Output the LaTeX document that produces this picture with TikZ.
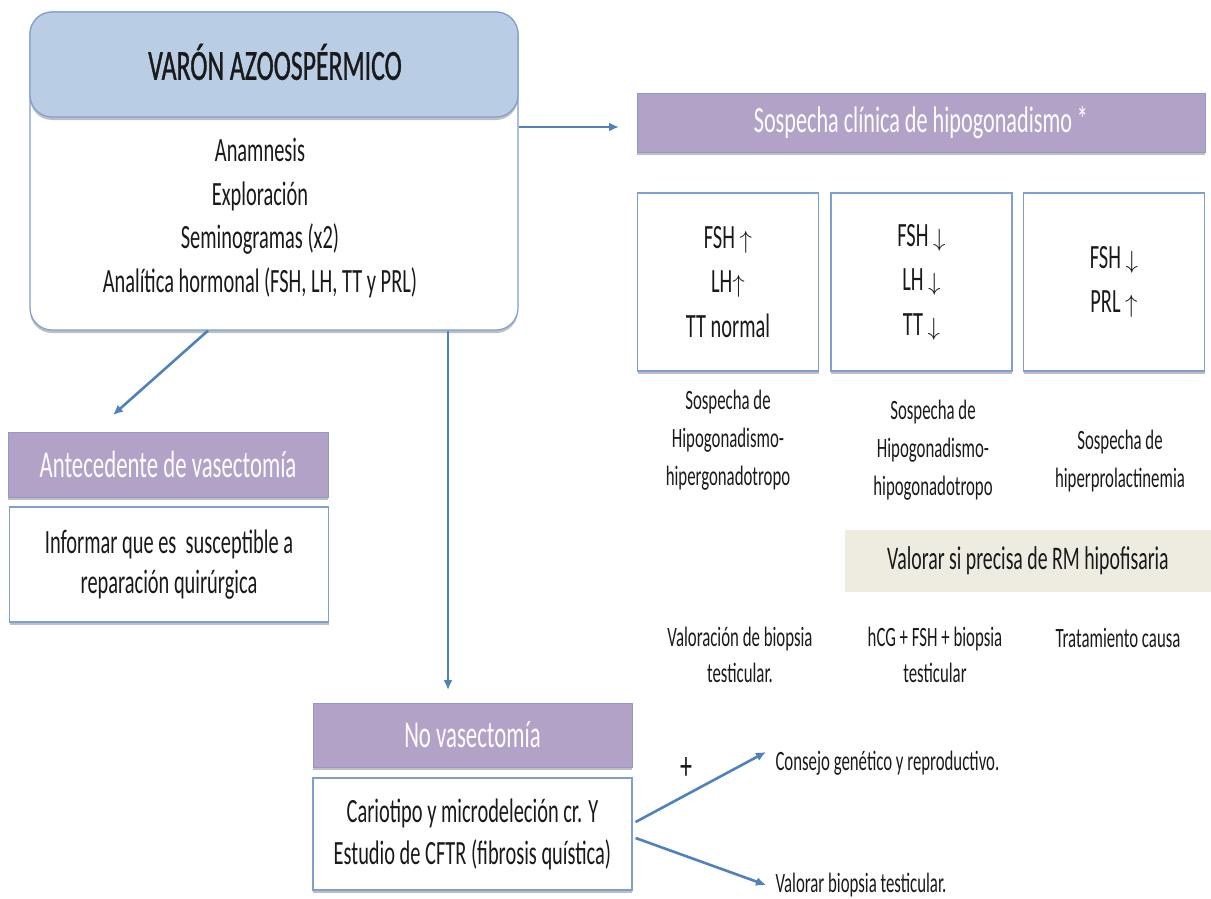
\documentclass[tikz,border=0pt]{standalone}
\usepackage{fontspec}
\setmainfont[FakeStretch=0.6]{Carlito}
\newfontfamily\titlefont[FakeStretch=0.6,FakeBold=0.8]{Carlito}
\usetikzlibrary{arrows.meta,shadows}

\definecolor{headblue}{HTML}{B9CDE5}
\definecolor{lineblue}{HTML}{7F9FCF}
\definecolor{arrblue}{HTML}{4F81BD}
\definecolor{lila}{HTML}{B3A2C7}
\definecolor{lilaline}{HTML}{8E9BC9}
\definecolor{beige}{HTML}{EEECE1}
\definecolor{txt}{HTML}{1A1A1A}

\newcommand{\fsz}[2]{\fontsize{#1}{#2}\selectfont}

\begin{document}
\begin{tikzpicture}[x=1pt,y=-1pt,
    shadowed/.style={drop shadow={shadow xshift=0pt,shadow yshift=-3pt,opacity=0.25,fill=black}},
    whitebox/.style={shadowed,draw=lineblue,line width=1.2pt,fill=white,inner sep=0pt,align=center,text=txt},
    lilabox/.style={shadowed,draw=lilaline,line width=0.8pt,fill=lila,inner sep=0pt,text=white,font=\fsz{38}{44}},
    label/.style={align=center,text=txt,font=\fsz{28}{38}},
    arr/.style={draw=arrblue,line width=2.6pt,-{Latex[length=10pt,width=9pt]}}]
    \useasboundingbox (0,0) rectangle (1211,899);

    \node[whitebox,rounded corners=22pt,minimum width=488pt,minimum height=318pt] (main) at (274,171) {};
    \node[shadowed,draw=lineblue,line width=1.2pt,fill=headblue,rounded corners=22pt,
          minimum width=488pt,minimum height=105pt] (head) at (274,64.5) {};
    \node[text=txt,font=\titlefont\fsz{43}{48}] (title) at (275,62) {VARÓN AZOOSPÉRMICO};
    \node[align=center,text=txt,font=\fsz{34}{43.5}] (tests) at (260,218)
        {Anamnesis\\Exploración\\Seminogramas (x2)\\Analítica hormonal (FSH, LH, TT y PRL)};

    \node[lilabox,font=\fsz{37}{44},minimum width=568pt,minimum height=59pt] (sosp) at (921,122.5)
        {Sospecha clínica de hipogonadismo *};

    \begin{scope}[every node/.style={whitebox,font=\fsz{34}{44.5},minimum width=181pt,minimum height=178pt}]
        \node (hiper) at (728,282) {FSH $\uparrow$\\LH$\uparrow$\\TT normal};
        \node (hipo) at (921.5,282) {FSH $\downarrow$\\LH $\downarrow$\\TT $\downarrow$};
        \node (prl) at (1114,282) {FSH $\downarrow$\\PRL $\uparrow$};
    \end{scope}

    \node[label] (shiper) at (728,440) {Sospecha de\\Hipogonadismo-\\hipergonadotropo};
    \node[label] (shipo) at (933,450) {Sospecha de\\Hipogonadismo-\\hipogonadotropo};
    \node[label] (sprl) at (1120,461) {Sospecha de\\hiperprolactinemia};

    \node[fill=beige,minimum width=366pt,minimum height=62pt,text=txt,font=\fsz{33}{38}] (rm) at (1028,561)
        {Valorar si precisa de RM hipofisaria};

    \node[label,font=\fsz{28}{36}] (vbiop) at (740,655) {Valoración de biopsia\\testicular.};
    \node[label,font=\fsz{28}{36}] (hcg) at (935,655) {hCG + FSH + biopsia\\testicular};
    \node[label] (trat) at (1118,638) {Tratamiento causa};

    \node[lilabox,minimum width=320pt,minimum height=65pt] (antec) at (168,464.5) {Antecedente de vasectomía};
    \node[whitebox,font=\fsz{34}{40},minimum width=319pt,minimum height=115pt] (inform) at (169,564.5)
        {Informar que es\ \ susceptible a\\reparación quirúrgica};

    \node[lilabox,minimum width=319pt,minimum height=64pt] (novas) at (472.5,735) {No vasectomía};
    \node[whitebox,font=\fsz{34}{42},minimum width=319pt,minimum height=112pt] (cario) at (472.5,834)
        {Cariotipo y microdeleción cr. Y\\Estudio de CFTR (fibrosis quística)};

    \node[text=txt,font=\fsz{40}{44}] (plus) at (686,768) {+};
    \node[anchor=west,text=txt,font=\fsz{28}{32}] (consejo) at (772,763) {Consejo genético y reproductivo.};
    \node[anchor=west,text=txt,font=\fsz{28}{32}] (vtest) at (772,885) {Valorar biopsia testicular.};

    \coordinate (e1) at (619,127);
    \coordinate (e2) at (113,415);
    \coordinate (e3) at (448,690);
    \coordinate (e4) at (766,752);
    \coordinate (e5) at (766,885);
    \draw[arr] (main.east |- e1) -- (e1);
    \draw[arr] ([xshift=-66pt]main.south) -- (e2);
    \draw[arr] (main.south -| e3) -- (e3);
    \draw[arr] ([xshift=3pt,yshift=12pt]cario.east) -- (e4);
    \draw[arr] ([xshift=3pt,yshift=-4pt]cario.east) -- (e5);
\end{tikzpicture}
\end{document}
